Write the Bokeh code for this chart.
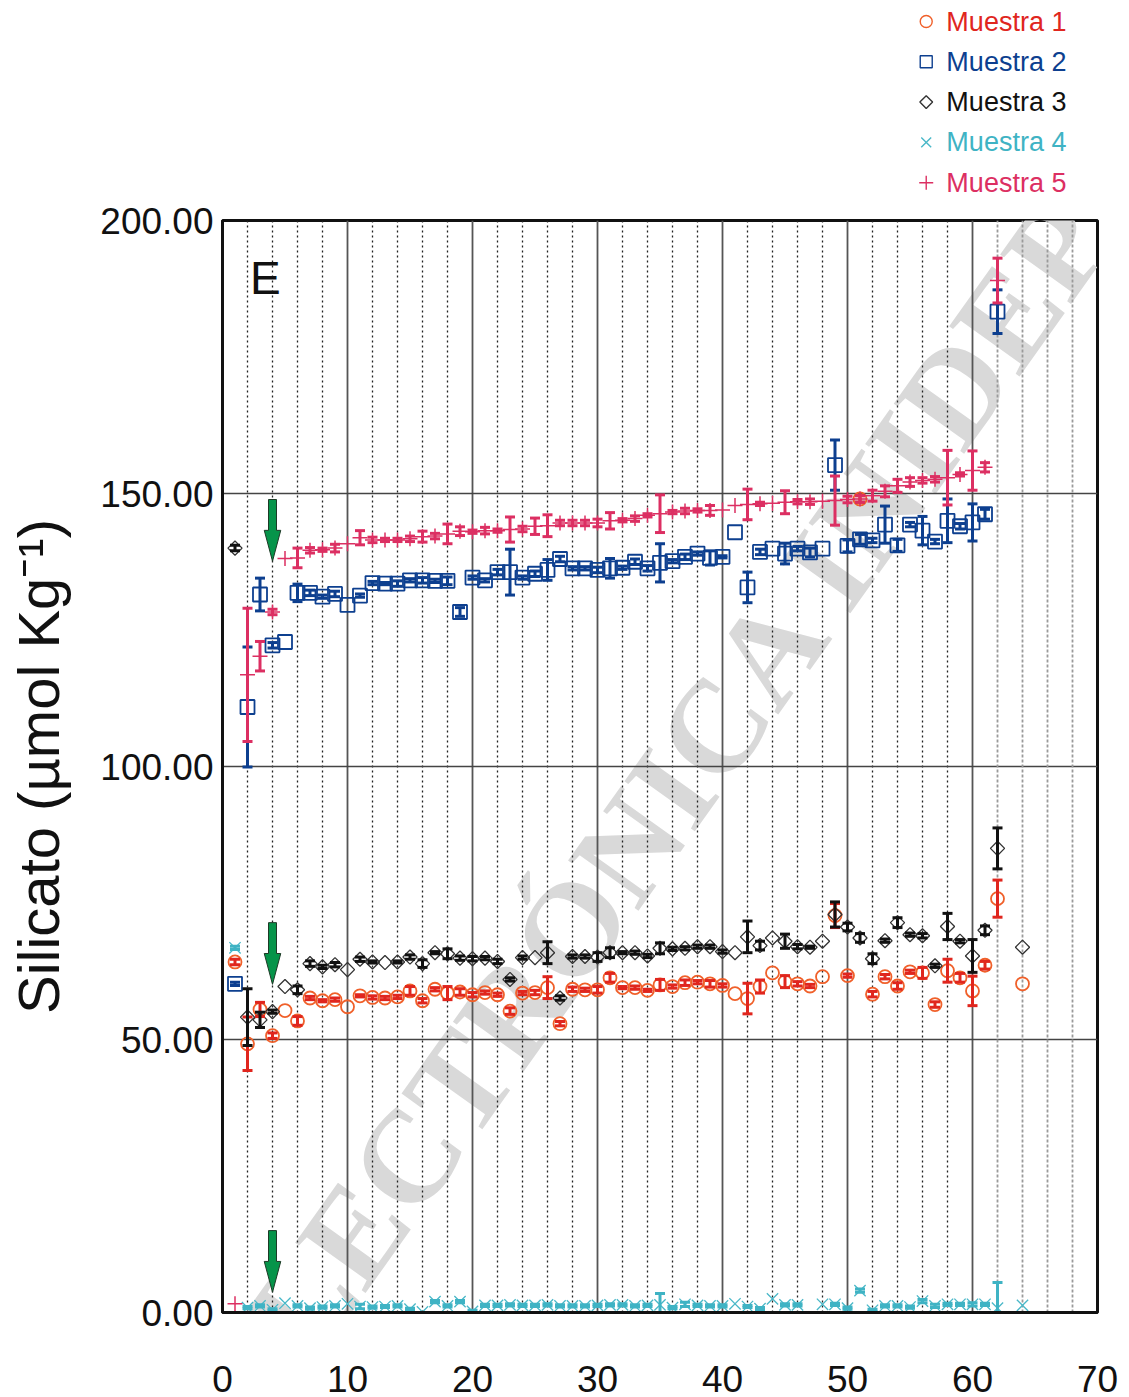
import math
from bokeh.plotting import figure
from bokeh.layouts import column
from bokeh.models import (ColumnDataSource, Whisker, TeeHead, FixedTicker, Grid,
                          Label, PrintfTickFormatter, Range1d)
from bokeh.core.properties import value
from bokeh.embed import file_html
from bokeh.resources import INLINE

# ---- station number (x) ----
stations_a = list(range(1, 63))            # stations 1..62
stations_m1 = stations_a + [64]
stations_m2 = list(stations_a)
stations_m3 = stations_a + [64]
stations_m4 = [s for s in stations_a if s != 47] + [64]
stations_m5 = list(stations_a)

# ---- Muestra 1 ----
m1_val = [64.2, 49.2, 55.5, 50.7, 55.3, 53.4, 57.6, 57.1, 57.3, 56.0,
          58.0, 57.7, 57.6, 57.8, 58.9, 57.1, 59.2, 58.5, 58.7, 58.2,
          58.6, 58.2, 55.2, 58.5, 58.6, 59.5, 52.9, 59.2, 59.1, 59.1,
          61.3, 59.5, 59.5, 59.0, 60.0, 59.7, 60.4, 60.5, 60.2, 59.9,
          58.4, 57.5, 59.7, 62.2, 60.6, 60.2, 59.8, 61.5, 72.7, 61.7,
          149.0, 58.3, 61.5, 59.8, 62.4, 62.2, 56.4, 62.6, 61.3, 58.9,
          63.6, 75.8, 60.2]
m1_err = [0.5, 4.9, 1.3, 0.5, 0, 0.8, 0.3, 0.2, 0.3, 0,
          0.2, 0.3, 0.3, 0.3, 0.8, 0.4, 0.3, 1.2, 0.6, 0.4,
          0.3, 0.3, 0.6, 0.3, 0.4, 2.0, 0.4, 0.4, 0.3, 0.6,
          0.8, 0.2, 0.3, 0.2, 1.0, 0.3, 0.5, 0.3, 0.6, 0.3,
          0, 2.8, 1.2, 0, 1.1, 0.4, 0.3, 0, 2.2, 0.3,
          0.6, 0.5, 0.4, 0.6, 0.3, 1.0, 0.5, 2.1, 0.8, 2.7,
          0.7, 3.4, 0]

# ---- Muestra 2 ----
m2_val = [60.2, 110.9, 131.5, 122.2, 122.8, 131.8, 131.8, 131.1, 131.6, 129.6,
          131.3, 133.6, 133.5, 133.5, 134.1, 134.1, 134.0, 134.0, 128.3, 134.6,
          134.1, 135.6, 135.6, 134.6, 135.3, 136.0, 138.0, 136.3, 136.3, 136.0,
          136.3, 136.4, 137.5, 136.3, 137.3, 137.6, 138.4, 139.0, 138.2, 138.4,
          142.9, 132.8, 139.3, 139.9, 139.0, 139.9, 139.2, 139.9, 155.2, 140.4,
          141.6, 141.4, 144.3, 140.5, 144.3, 143.2, 141.2, 145.0, 144.0, 144.7,
          146.2, 183.3]
m2_err = [0.3, 11.0, 3.0, 0.5, 0, 1.6, 0.5, 0.3, 0.5, 0,
          0.3, 0.3, 0.2, 0.5, 0.3, 0.5, 0.3, 0.7, 0.8, 0.3,
          0.3, 0.5, 4.2, 0.3, 0.5, 1.9, 0.5, 0.3, 0.3, 0.5,
          1.8, 0.3, 0.5, 0.5, 3.5, 0.3, 0.5, 0.3, 1.3, 0.2,
          0, 2.8, 0.5, 0, 1.9, 0.4, 0.8, 0, 4.6, 1.1,
          0.9, 0.4, 3.4, 1.1, 0.4, 2.6, 0.4, 4.0, 0.5, 3.4,
          0.9, 4.0]

# ---- Muestra 3 ----
m3_val = [140.0, 54.1, 53.6, 55.1, 59.7, 59.1, 63.9, 63.3, 63.7, 62.8,
          64.7, 64.2, 64.1, 64.2, 65.1, 63.9, 65.9, 65.7, 64.9, 64.8,
          64.9, 64.3, 61.0, 65.0, 65.0, 65.9, 57.6, 65.2, 65.2, 65.1,
          65.9, 65.9, 65.9, 65.3, 66.7, 66.6, 66.7, 67.0, 67.0, 66.1,
          65.9, 68.8, 67.2, 68.6, 68.0, 67.0, 66.9, 68.0, 72.9, 70.6,
          68.6, 64.8, 68.1, 71.4, 69.2, 69.0, 63.5, 70.7, 68.0, 65.3,
          70.0, 85.0, 66.9]
m3_err = [0.5, 5.2, 1.4, 0.3, 0, 0.7, 0.5, 0.3, 0.4, 0,
          0.4, 0.2, 0, 0.2, 0.4, 0.7, 0.2, 0.9, 0.4, 0.4,
          0.3, 0.4, 0.3, 0.3, 0, 2.0, 0.4, 0.3, 0.3, 0.8,
          0.9, 0.2, 0.3, 0.3, 1.0, 0.3, 0.3, 0.3, 0.3, 0.3,
          0, 2.9, 0.8, 0, 1.3, 0.4, 0.2, 0, 2.3, 0.7,
          0.8, 0.9, 0.3, 0.9, 0.3, 0.4, 0.3, 2.4, 0.3, 3.0,
          0.8, 3.75, 0]

# ---- Muestra 4 ----
m4_val = [66.8, 0.9, 1.2, 0.5, 1.7, 1.2, 0.8, 1.0, 1.2, 1.6,
          1.1, 1.0, 1.1, 1.2, 0.6, 0.1, 2.0, 1.2, 2.0, 0.2,
          1.3, 1.3, 1.4, 1.3, 1.3, 1.4, 1.2, 1.2, 1.2, 1.3,
          1.4, 1.4, 1.2, 1.3, 1.4, 0.9, 1.5, 1.3, 1.2, 1.2,
          1.6, 1.1, 0.7, 2.5, 1.4, 1.4, 1.5, 1.5, 0.8,
          4.0, 0.4, 1.2, 1.2, 1.0, 2.1, 1.2, 1.5, 1.5, 1.5,
          1.5, 0.8, 1.3]
m4_err = [0.3, 0.2, 0.2, 0.2, 0, 0.2, 0.2, 0.2, 0.2, 0,
          0.4, 0.2, 0.2, 0.2, 0.2, 0, 0.2, 0.2, 0.2, 0.2,
          0.2, 0.2, 0.2, 0.2, 0.2, 0.2, 0.2, 0.2, 0.2, 0.2,
          0.2, 0.2, 0.2, 0.2, 2.1, 0.2, 0.4, 0.2, 0.2, 0.2,
          0, 0.2, 0.2, 0, 0.2, 0.2, 0, 0.2, 0.2,
          0.3, 0.2, 0.2, 0.2, 0.2, 0.3, 0.3, 0.2, 0.2, 0.3,
          0.2, 4.7, 0]

# ---- Muestra 5 ----
m5_val = [1.6, 116.8, 120.2, 128.3, 138.1, 138.2, 139.6, 139.7, 140.0, 140.8,
          141.9, 141.5, 141.5, 141.5, 141.7, 142.1, 142.2, 142.6, 143.1, 143.0,
          143.2, 143.2, 143.4, 143.5, 144.0, 144.1, 144.6, 144.6, 144.6, 144.6,
          145.0, 145.1, 145.4, 146.0, 146.3, 146.6, 146.8, 146.9, 146.9, 147.0,
          147.8, 148.0, 148.1, 148.2, 148.4, 148.5, 148.5, 148.6, 148.7, 148.9,
          149.0, 149.6, 150.4, 151.4, 152.1, 152.4, 152.6, 152.9, 153.5, 154.2,
          154.8, 189.0]
m5_err = [0, 12.2, 2.7, 0.5, 0, 1.8, 0.5, 0.3, 0.7, 0,
          1.3, 0.5, 0.3, 0.3, 0.5, 1.0, 0.5, 1.8, 0.8, 0.3,
          0.6, 0.3, 2.3, 0.5, 1.5, 2.0, 0.5, 0.5, 0.5, 0.7,
          1.5, 0.3, 0.5, 0.3, 3.45, 0.3, 0.5, 0.3, 0.9, 0,
          0, 2.8, 0.3, 0, 2.1, 0.4, 0.5, 0, 4.5, 0.6,
          0.6, 1.0, 1.0, 1.2, 0.8, 0.5, 0.5, 5.0, 0.3, 3.6,
          0.85, 4.1]

series_names = ["Muestra 1", "Muestra 2", "Muestra 3", "Muestra 4", "Muestra 5"]

# arrows marking station 4 (top and tip of each arrow, in µmol/kg)
arrow_station = 4
arrow_tops = [148.9, 71.4, 15.0]
arrow_tips = [137.6, 60.1, 3.7]

x_ticks = [0, 10, 20, 30, 40, 50, 60, 70]
y_ticks = [0, 50, 100, 150, 200]

FONT = "Liberation Sans"
W = 1129
LEG_H = 200

# the diamond is a square turned by 45 degrees
markers = ["circle", "square", "square", "x", "cross"]
marker_angles = [0, 0, math.pi / 4, 0, 0]
marker_colors = ["#f0602a", "#0d3f8f", "#333333", "#4ab8c8", "#dc2f62"]
bar_colors = ["#e0261e", "#0d3f8f", "#111111", "#3fb3c4", "#dc2f62"]
text_colors = ["#e0261e", "#0d3f8f", "#111111", "#3fb3c4", "#dc2f62"]
marker_sizes = [13, 14, 10, 16, 15]
legend_sizes = [12, 12, 9, 14, 14]
marker_widths = [1.8, 1.8, 1.3, 1.3, 1.5]

# ---------------- legend strip (pixel coordinates, y downwards) ----------------
leg = figure(width=W, height=LEG_H, x_range=Range1d(0, W), y_range=Range1d(LEG_H, 0),
             min_border=0, output_backend="svg", toolbar_location=None,
             title_location=None, x_axis_location=None, y_axis_location=None)
leg.outline_line_color = None
leg.xgrid.visible = False
leg.ygrid.visible = False
rows = [21 + 40.3 * i for i in range(5)]
leg_src = ColumnDataSource(dict(mx=[908] * 5, tx=[934] * 5, y=rows,
                                marker=markers, angle=marker_angles,
                                size=legend_sizes, mcolor=marker_colors,
                                tcolor=text_colors, name=series_names))
leg.scatter("mx", "y", source=leg_src, marker="marker", size="size",
            angle="angle", fill_color=None, line_color="mcolor", line_width=1.4)
leg.text("tx", "y", text="name", source=leg_src, text_color="tcolor",
         text_font=value(FONT), text_font_size="27px", text_baseline="middle")

# ---------------- main plot ----------------
p = figure(frame_width=875, frame_height=1092,
           x_range=(0, 70), y_range=(0, 200),
           min_border_left=222, min_border_right=32,
           min_border_top=220 - LEG_H, min_border_bottom=85,
           title_location=None,
           output_backend="svg", toolbar_location=None,
           background_fill_color="white", border_fill_color="white")

p.outline_line_color = "#111111"
p.outline_line_width = 3

minor = [v for v in range(2, 62, 2) if v % 10 != 0]
p.xaxis.ticker = FixedTicker(ticks=x_ticks, minor_ticks=minor)
p.yaxis.ticker = FixedTicker(ticks=y_ticks)
p.yaxis.formatter = PrintfTickFormatter(format="%.2f")
for ax in (p.xaxis, p.yaxis):
    ax.axis_line_color = "#111111"
    ax.axis_line_width = 3
    ax.major_tick_line_color = None
    ax.minor_tick_line_color = None
    ax.major_label_text_font = FONT
    ax.major_label_text_font_size = "37px"
    ax.major_label_text_color = "#111111"
p.xaxis.major_label_standoff = 47
p.yaxis.major_label_standoff = 3
p.yaxis.axis_label = "Silicato (µmol Kg⁻¹)"
p.yaxis.axis_label_text_font = FONT
p.yaxis.axis_label_text_font_size = "58px"
p.yaxis.axis_label_text_font_style = "normal"
p.yaxis.axis_label_text_color = "#111111"
p.yaxis.axis_label_standoff = 26

p.xgrid.grid_line_color = "#555555"
p.xgrid.grid_line_width = 1.8
p.xgrid.minor_grid_line_color = "#222222"
p.xgrid.minor_grid_line_dash = "2 3"
p.xgrid.minor_grid_line_width = 1.3
p.ygrid.ticker = FixedTicker(ticks=[50, 100, 150])
p.ygrid.grid_line_color = "#444444"
p.ygrid.grid_line_width = 1.6
p.add_layout(Grid(dimension=0, ticker=FixedTicker(ticks=[62, 64, 66, 68]),
                  grid_line_color="#9a9a9a", grid_line_dash="3 2",
                  grid_line_width=1.8))

# watermark
p.add_layout(Label(x=34.6, y=91.9, text="ELECTRÓNICA INIDEP",
                   angle=54.5, angle_units="deg",
                   text_font="Liberation Serif", text_font_style="bold",
                   text_font_size="132px", text_color="#d9d9d9",
                   text_align="center", text_baseline="middle", level="image"))

series = [
    (stations_m1, m1_val, m1_err),
    (stations_m2, m2_val, m2_err),
    (stations_m3, m3_val, m3_err),
    (stations_m4, m4_val, m4_err),
    (stations_m5, m5_val, m5_err),
]

for i, (xs, vals, errs) in enumerate(series):
    ecolor = bar_colors[i]
    wx = [x for x, e in zip(xs, errs) if e > 0]
    wu = [v + e for v, e in zip(vals, errs) if e > 0]
    wl = [v - e for v, e in zip(vals, errs) if e > 0]
    wsrc = ColumnDataSource(dict(x=wx, upper=wu, lower=wl))
    p.add_layout(Whisker(source=wsrc, base="x", upper="upper", lower="lower",
                         dimension="height", line_color=ecolor, line_width=3,
                         upper_head=TeeHead(size=10, line_color=ecolor, line_width=3),
                         lower_head=TeeHead(size=10, line_color=ecolor, line_width=3),
                         level="glyph"))
    src = ColumnDataSource(dict(x=xs, y=vals))
    p.scatter("x", "y", source=src, marker=markers[i], size=marker_sizes[i],
              angle=marker_angles[i], fill_color=None,
              line_color=marker_colors[i], line_width=marker_widths[i])

# station-4 arrows
ax_, ay_ = [], []
for top, tip in zip(arrow_tops, arrow_tips):
    head = tip + (top - tip) * 0.5
    s, h = 0.32, 0.66
    ax_.append([arrow_station - s, arrow_station + s, arrow_station + s,
                arrow_station + h, arrow_station, arrow_station - h,
                arrow_station - s])
    ay_.append([top, top, head, head, tip, head, head])
p.patches(ax_, ay_, fill_color="#06944a", line_color="#1d3a26", line_width=1)

# panel letter
p.add_layout(Label(x=2.2, y=189.4, text="E", text_font=FONT,
                   text_font_size="46px", text_color="#111111",
                   text_baseline="middle"))

layout = column(leg, p, spacing=0)
open("out.html", "w").write(file_html(layout, INLINE))
